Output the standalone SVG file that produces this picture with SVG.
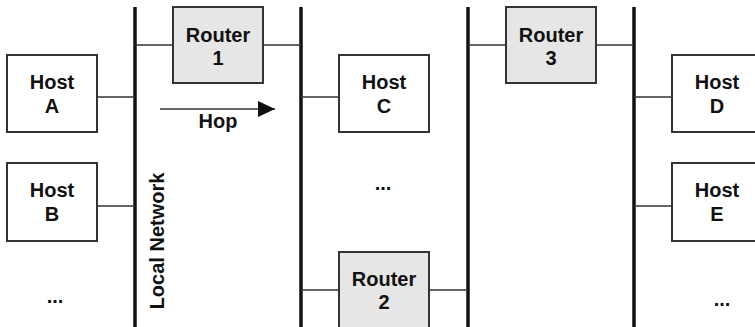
<svg xmlns="http://www.w3.org/2000/svg" width="755" height="327" viewBox="0 0 755 327">
<defs>
<style>
.host{fill:#fff;stroke:#333;stroke-width:2}
.router{fill:#e6e6e6;stroke:#333;stroke-width:2}
.bus{stroke:#111;stroke-width:3.5}
.link{stroke:#333;stroke-width:1.6;fill:none}
text{font-family:"Liberation Sans",Arial,sans-serif;font-weight:bold;font-size:20px;fill:#111;text-anchor:middle}
</style>
<marker id="ah" markerWidth="17" markerHeight="16" refX="17" refY="8" orient="auto" markerUnits="userSpaceOnUse">
<path d="M0,0 L17,8 L0,16 Z" fill="#111"/>
</marker>
</defs>
<rect width="755" height="327" fill="#fff"/>
<g id="connectors">
<line class="bus" x1="135" y1="7" x2="135" y2="327"/>
<line class="bus" x1="301" y1="7" x2="301" y2="327"/>
<line class="bus" x1="468" y1="7" x2="468" y2="327"/>
<line class="bus" x1="634" y1="7" x2="634" y2="327"/>
<line class="link" x1="97" y1="97" x2="135" y2="97"/>
<line class="link" x1="97" y1="206" x2="135" y2="206"/>
<line class="link" x1="135" y1="45" x2="173" y2="45"/>
<line class="link" x1="263" y1="45" x2="301" y2="45"/>
<line class="link" x1="301" y1="97" x2="339" y2="97"/>
<line class="link" x1="301" y1="290" x2="339" y2="290"/>
<line class="link" x1="429" y1="290" x2="468" y2="290"/>
<line class="link" x1="468" y1="45" x2="506" y2="45"/>
<line class="link" x1="596" y1="45" x2="634" y2="45"/>
<line class="link" x1="634" y1="97" x2="672" y2="97"/>
<line class="link" x1="634" y1="206" x2="672" y2="206"/>
<line id="hop-arrow" class="link" x1="160" y1="109" x2="275" y2="109" marker-end="url(#ah)"/>
</g>
<g id="hostA"><rect class="host" x="7" y="55" width="90" height="77"/><text x="52" y="89">Host</text><text x="52" y="113">A</text></g>
<g id="hostB"><rect class="host" x="7" y="163" width="90" height="78"/><text x="52" y="197">Host</text><text x="52" y="221">B</text></g>
<g id="dotsB"><text x="55" y="303">...</text></g>
<g id="router1"><rect class="router" x="173" y="7" width="90" height="76"/><text x="218" y="42">Router</text><text x="218" y="65">1</text></g>
<g id="hop"><text x="218" y="128">Hop</text></g>
<g id="localNetwork"><text transform="translate(164,241) rotate(-90)" font-size="21">Local Network</text></g>
<g id="hostC"><rect class="host" x="339" y="55" width="90" height="77"/><text x="384" y="89">Host</text><text x="384" y="113">C</text></g>
<g id="dotsC"><text x="383" y="190">...</text></g>
<g id="router2"><rect class="router" x="339" y="252" width="90" height="80"/><text x="384" y="286">Router</text><text x="384" y="309">2</text></g>
<g id="router3"><rect class="router" x="506" y="7" width="90" height="76"/><text x="551" y="42">Router</text><text x="551" y="65">3</text></g>
<g id="hostD"><rect class="host" x="672" y="55" width="90" height="77"/><text x="717" y="89">Host</text><text x="717" y="113">D</text></g>
<g id="hostE"><rect class="host" x="672" y="163" width="90" height="78"/><text x="717" y="197">Host</text><text x="717" y="221">E</text></g>
<g id="dotsE"><text x="722" y="306">...</text></g>
</svg>
